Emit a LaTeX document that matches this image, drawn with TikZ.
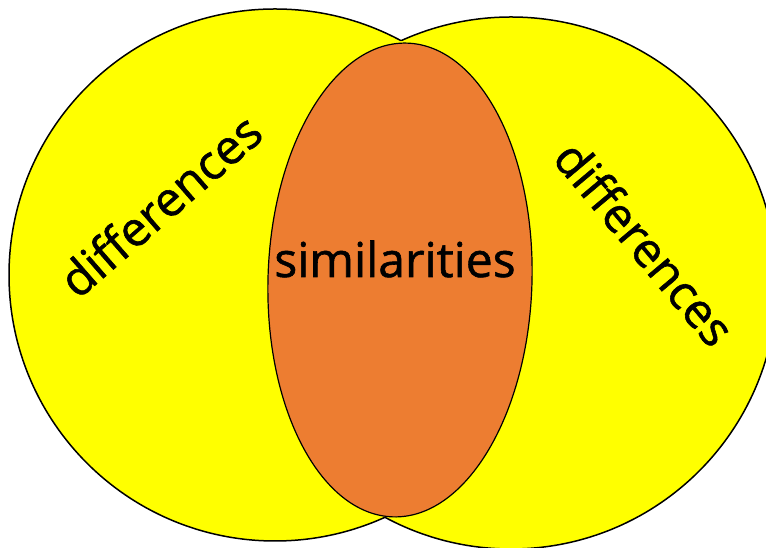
\documentclass[tikz,border=0pt]{standalone}
\usepackage{fontspec}
\setmainfont{Open Sans}[FakeBold=1.2]
\usetikzlibrary{shapes.geometric}
\definecolor{vyellow}{HTML}{FFFF00}
\definecolor{vorange}{HTML}{ED7D31}
\begin{document}
\begin{tikzpicture}[x=1pt,y=1pt,
  setcircle/.style={circle,fill=vyellow,minimum size=532pt,inner sep=0pt},
  rim/.style={draw=black,line width=1.5pt},
  common/.style={ellipse,draw=black,line width=1.2pt,fill=vorange,minimum width=264pt,minimum height=474pt,inner sep=0pt},
  lbl/.style={font=\fontsize{48}{56}\selectfont,inner sep=0pt}]
\useasboundingbox (0,0) rectangle (766,548);
\clip (0,0) rectangle (766,548);
\node[setcircle] (left) at (275,273) {};
\node[setcircle] (right) at (511,265) {};
\begin{scope}[even odd rule]
  \clip (-10,-10) rectangle (800,600) (right.center) circle[radius=266pt];
  \draw[rim] (left.center) circle[radius=266pt];
\end{scope}
\begin{scope}[even odd rule]
  \clip (-10,-10) rectangle (800,600) (left.center) circle[radius=266pt];
  \draw[rim] (right.center) circle[radius=266pt];
\end{scope}
\node[common,rotate=-1.7] (mid) at (400,268) {};
\node[lbl] (sim) at (395,289) {similarities};
\node[lbl,rotate=41] (dl) at (160,343) {differences};
\node[lbl,rotate=-50] (dr) at (645,305) {differences};
\end{tikzpicture}
\end{document}
